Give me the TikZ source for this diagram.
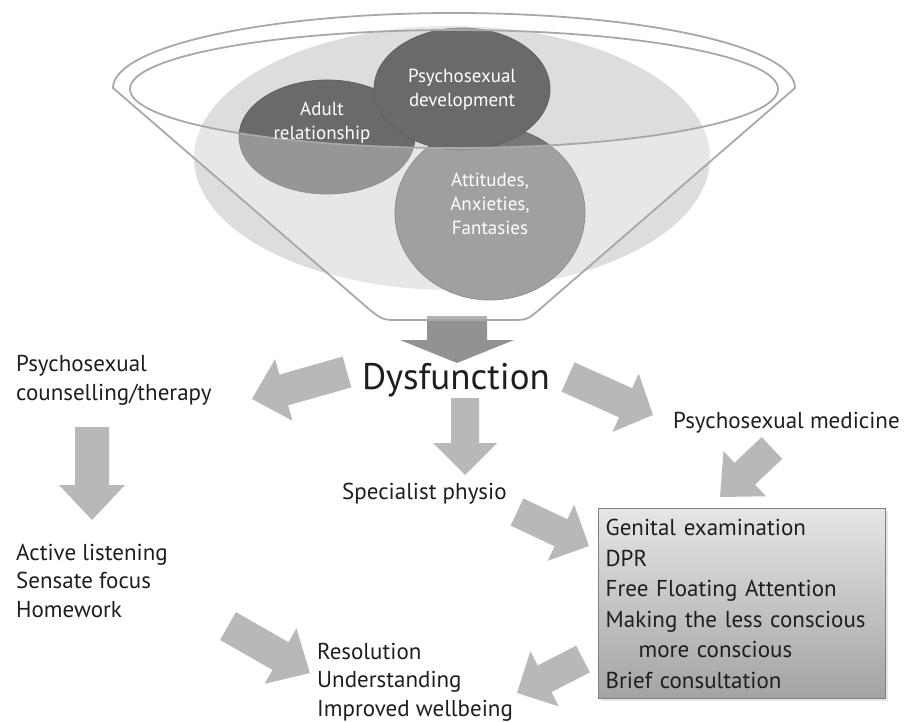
\documentclass[tikz,border=0pt]{standalone}
\usepackage{fontspec}
\setmainfont{PT Sans}
\usepackage{tikz}
\usetikzlibrary{calc,positioning,shadows}
\usetikzlibrary{arrows.meta}
\definecolor{rim_gray}{RGB}{168,168,168}
\definecolor{haze_gray}{RGB}{221,221,221}
\definecolor{blob_dark}{RGB}{106,106,106}
\definecolor{blob_mid}{RGB}{120,120,120}
\definecolor{arrow_gray}{RGB}{184,184,184}
\definecolor{arrow_dark}{RGB}{146,146,146}
\definecolor{text_gray}{RGB}{30,30,30}

\begin{document}
\begin{tikzpicture}[
		x=1pt, y=-1pt,
		every node/.style={font=\fontsize{23}{28.5}\selectfont, text=text_gray, inner sep=0pt, align=left},
		blob/.style={draw=black!62, line width=0.8pt},
		blobtext/.style={font=\fontsize{19}{24}\selectfont, text=white, align=center},
		rim/.style={draw=rim_gray, line width=1.8pt},
	]
	\useasboundingbox (0,0) rectangle (905,722);

	% block arrow: style, from, to, half shaft, half head, head length
	\newcommand{\bigarrow}[6]{%
		\coordinate (hb) at ($#3!#6!#2$);
		\fill[#1] ($#2!#4!90:#3$) -- ($(hb)!#4!90:#3$) -- ($(hb)!#5!90:#3$) -- #3
		-- ($(hb)!#5!-90:#3$) -- ($(hb)!#4!-90:#3$) -- ($#2!#4!-90:#3$) -- cycle;
	}

	% haze behind the blobs
	\fill[haze_gray] (452,158) ellipse[x radius=258, y radius=132];

	% the three blobs
	\path[blob, fill=blob_dark] (327,137) ellipse[x radius=88, y radius=57];
	\path[blob, fill=blob_mid] (490,213) ellipse[x radius=95, y radius=87];
	\path[blob, fill=blob_dark] (462,89) ellipse[x radius=88, y radius=61];

	% arrow out of the funnel
	\coordinate (spout) at (457,316);
	\coordinate (spout-tip) at (457,363);
	\bigarrow{arrow_dark}{(spout)}{(spout-tip)}{30pt}{57pt}{23pt}

	% funnel
	\def\funnelpath{(113,88) arc[start angle=180, end angle=360, x radius=341, y radius=75]
		-- (540,309) .. controls (527,320) .. (510,320) -- (400,320)
		.. controls (383,320) .. (370,310) -- cycle}
	\fill[white, opacity=0.3, even odd rule] \funnelpath (454,89) ellipse[x radius=324, y radius=59];
	\draw[rim, line join=round] \funnelpath;
	\draw[rim] (454,89) ellipse[x radius=324, y radius=59];

	\node[blobtext] (adult) at (322,123) {Adult\\relationship};
	\node[blobtext] (develop) at (462,90) {Psychosexual\\development};
	\node[blobtext] (attitudes) at (490,204) {Attitudes,\\Anxieties,\\Fantasies};

	% texts (base = last line)
	\node[anchor=base west, font=\fontsize{37}{40}\selectfont] (dys) at (362,389) {Dysfunction};
	\node[anchor=base west] (counsel) at (16,400) {Psychosexual\\counselling/therapy};
	\node[anchor=base west] (medicine) at (673,428) {Psychosexual medicine};
	\node[anchor=base west] (physio) at (342,499) {Specialist physio};
	\node[anchor=base west] (active) at (16,617) {Active listening\\Sensate focus\\Homework};
	\node[anchor=base west] (resolution) at (317,716) {Resolution\\Understanding\\Improved wellbeing};

	\node[anchor=north west, draw=black!50, line width=1.4pt, top color=black!10, bottom color=black!36,
		minimum width=287pt, minimum height=190pt, text width=273pt, inner xsep=7pt,
		font=\fontsize{23}{30.5}\selectfont,
		drop shadow={opacity=0.2, shadow xshift=2pt, shadow yshift=-2pt}] (box) at (598,508)
	{Genital examination\\DPR\\Free Floating Attention\\Making the less conscious\\\hspace*{33pt}more conscious\\Brief consultation};

	% arrows between the texts
	\coordinate (a1) at (347,372);  \coordinate (a1-tip) at (252,399);
	\coordinate (a2) at (465,398);  \coordinate (a2-tip) at (465,475);
	\coordinate (a3) at (568,377);  \coordinate (a3-tip) at (653,415);
	\coordinate (a4) at (772,448);  \coordinate (a4-tip) at (720,497);
	\coordinate (a5) at (517,512);  \coordinate (a5-tip) at (589,546);
	\coordinate (a6) at (92,427);   \coordinate (a6-tip) at (92,520);
	\coordinate (a7) at (228,626);  \coordinate (a7-tip) at (310,673);
	\coordinate (a8) at (583,659);  \coordinate (a8-tip) at (517,693);

	\bigarrow{arrow_gray}{(a1)}{(a1-tip)}{16pt}{32pt}{33pt}
	\bigarrow{arrow_gray}{(a2)}{(a2-tip)}{14pt}{32pt}{32pt}
	\bigarrow{arrow_gray}{(a3)}{(a3-tip)}{16pt}{32pt}{30pt}
	\bigarrow{arrow_gray}{(a4)}{(a4-tip)}{15pt}{31pt}{34pt}
	\bigarrow{arrow_gray}{(a5)}{(a5-tip)}{15pt}{31pt}{31pt}
	\bigarrow{arrow_gray}{(a6)}{(a6-tip)}{17pt}{33pt}{35pt}
	\bigarrow{arrow_gray}{(a7)}{(a7-tip)}{16pt}{32pt}{34pt}
	\bigarrow{arrow_gray}{(a8)}{(a8-tip)}{15pt}{31pt}{31pt}

\end{tikzpicture}
\end{document}
